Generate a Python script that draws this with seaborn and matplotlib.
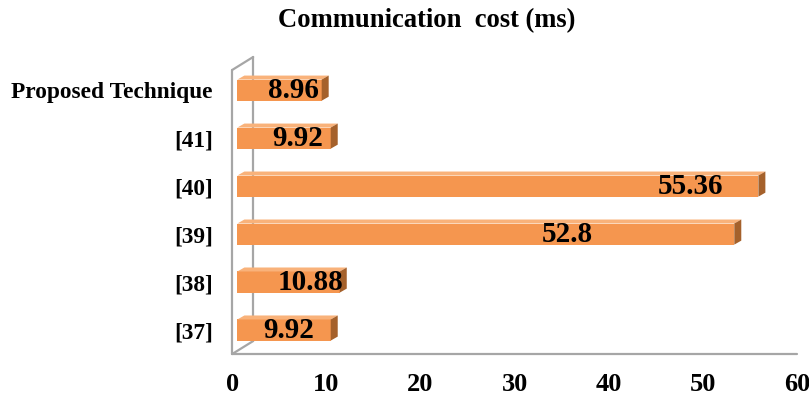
import matplotlib
matplotlib.use("Agg")
import matplotlib.pyplot as plt
import seaborn as sns
import pandas as pd
from matplotlib.patches import Polygon
from matplotlib.lines import Line2D

categories = ["Proposed Technique", "[41]", "[40]", "[39]", "[38]", "[37]"]
values = [8.96, 9.92, 55.36, 52.8, 10.88, 9.92]
value_labels = ["8.96", "9.92", "55.36", "52.8", "10.88", "9.92"]
xticks = [0, 10, 20, 30, 40, 50, 60]
title = "Communication  cost (ms)"

# label anchor positions (center, data units) - layout only
label_x = [6.5, 7.0, 48.7, 35.6, 8.3, 6.0]

sns.set_style("white")
plt.rcParams['font.family'] = ['Liberation Serif', 'DejaVu Serif']
plt.rcParams['text.color'] = 'black'
plt.rcParams['xtick.color'] = 'black'
plt.rcParams['ytick.color'] = 'black'

df = pd.DataFrame({"cat": categories, "val": values})

fig = plt.figure(figsize=(8.09, 3.96), dpi=100)
ax = fig.add_axes([0.287, 0.106, 0.698, 0.727])

front = "#F5964F"
top_c = "#F9B27A"
side_c = "#A5612B"

sns.barplot(data=df, x="val", y="cat", orient="h", color=front, width=0.44,
            saturation=1, ax=ax, edgecolor="none")

ax.set_xlim(0, 60)
ax.set_ylim(5.5, -0.5)

# pixel to data
px_x = 60 / (0.698 * 809)
px_y = 6 / (0.727 * 396)
dx = 7 * px_x
dy = 4 * px_y
shift = 0.55

for p in ax.patches:
    x0, y0 = p.get_x(), p.get_y()
    w, h = p.get_width(), p.get_height()
    x0 = x0 + shift
    p.set_x(x0)
    p.set_zorder(3)
    xe = x0 + w
    yt = y0
    yb = y0 + h
    ax.add_patch(Polygon([(x0, yt), (xe, yt), (xe + dx, yt - dy), (x0 + dx, yt - dy)],
                         closed=True, facecolor=top_c, edgecolor="none", zorder=3))
    ax.add_patch(Polygon([(xe, yt), (xe + dx, yt - dy), (xe + dx, yb - dy), (xe, yb)],
                         closed=True, facecolor=side_c, edgecolor="none", zorder=3))

for i, (lx, lab) in enumerate(zip(label_x, value_labels)):
    ax.text(lx, i, lab, ha="center", va="center", fontsize=21, fontweight="bold",
            color="black", zorder=5)

# wall lines
gray = "#A6A6A6"
wdx = 21 * px_x
wdy = 13 * px_y
ylo = 5.5
ywt = -0.42
ax.add_line(Line2D([0, 0], [ylo, ywt], color=gray, lw=1.6, clip_on=False, zorder=1))
ax.add_line(Line2D([wdx, wdx], [ylo - wdy, ywt - wdy], color=gray, lw=1.6, clip_on=False, zorder=1))
ax.add_line(Line2D([0, wdx], [ywt, ywt - wdy], color=gray, lw=1.6, clip_on=False, zorder=1))
ax.add_line(Line2D([0, wdx], [ylo, ylo - wdy], color=gray, lw=1.6, clip_on=False, zorder=1))
ax.add_line(Line2D([0, 60], [ylo, ylo], color=gray, lw=1.6, clip_on=False, zorder=1))

for s in ax.spines.values():
    s.set_visible(False)

ax.set_xticks(xticks)
ax.set_xticklabels([str(t) for t in xticks], fontsize=19, fontweight="bold", color="black")
ax.tick_params(axis="x", length=0, pad=14)
ax.tick_params(axis="y", length=0, pad=14)
for t in ax.get_yticklabels():
    t.set_fontsize(16.8)
    t.set_fontweight("bold")
    t.set_color("black")
ax.set_xlabel("")
ax.set_ylabel("")

fig.text(0.527, 0.948, title, ha="center", va="center", fontsize=19.2,
         fontweight="bold", color="black")

fig.savefig("out.png", dpi=100)
